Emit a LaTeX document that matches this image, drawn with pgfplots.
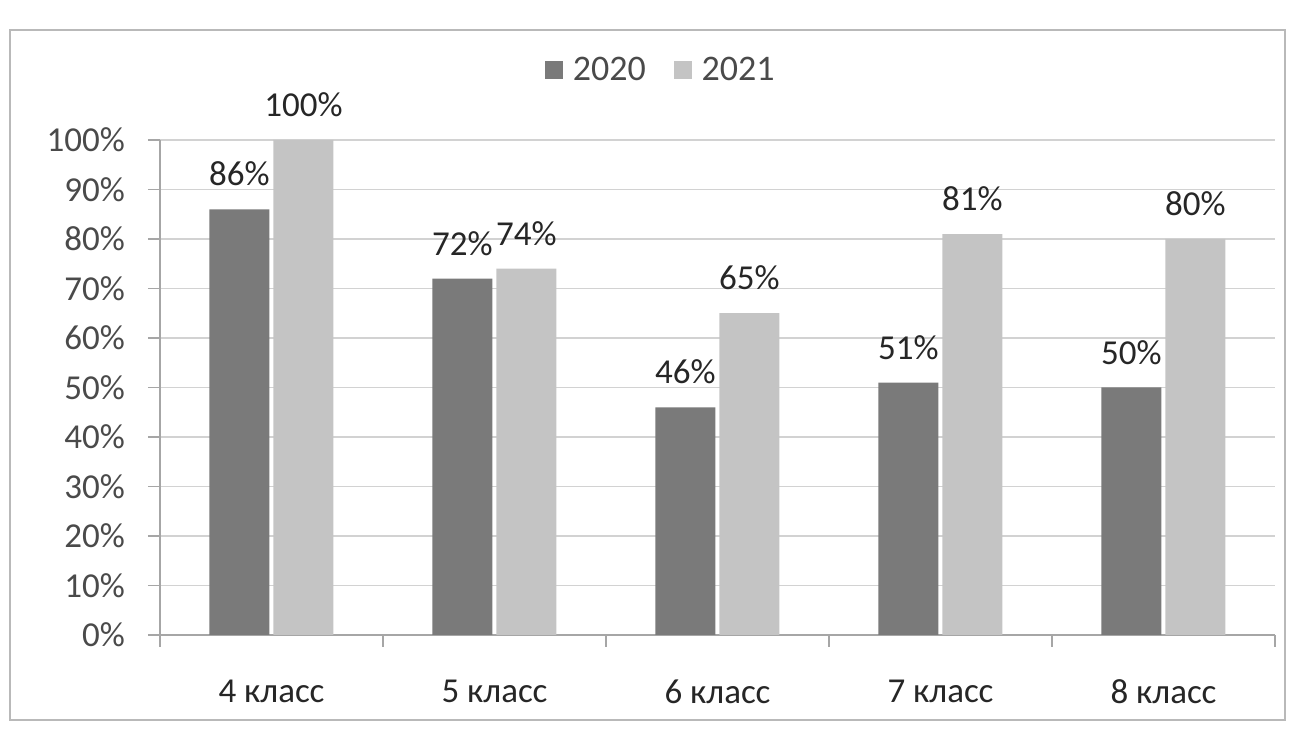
\documentclass[border=0pt]{standalone}
\usepackage{pgfplots}
\pgfplotsset{compat=1.18}
\usepackage{fontspec}
\setmainfont{Carlito}
\definecolor{c2020}{HTML}{7A7A7A}
\definecolor{c2021}{HTML}{C4C4C4}
\definecolor{txt}{HTML}{262626}
\definecolor{tick}{HTML}{4A4A4A}
\begin{document}
\begin{tikzpicture}[x=1pt,y=1pt]
\useasboundingbox (-80,-49) rectangle (569,317.5);
\draw[gray!55, line width=0.6pt] (-75,-42.5) rectangle (562.5,302.5);
\begin{axis}[
  at={(0,0)}, anchor=south west,
  width=557.5pt, height=247.5pt, scale only axis,
  ymin=0, ymax=100, xmin=-0.5, xmax=4.5,
  ybar=2pt, bar width=30pt,
  axis x line*=bottom, axis y line*=left,
  axis line style={gray!70, line width=0.6pt},
  tick align=outside,
  xtick={0,1,2,3,4},
  xticklabels={4 класс,5 класс,6 класс,7 класс,8 класс},
  major x tick style={draw=none},
  minor xtick={-0.5,0.5,1.5,2.5,3.5,4.5},
  minor x tick style={gray!70, line width=0.6pt},
  minor tick length=6pt,
  ytick={0,10,...,100},
  major y tick style={gray!70, line width=0.6pt},
  major tick length=6pt,
  yticklabel={\pgfmathprintnumber{\tick}\%},
  /pgf/number format/assume math mode=true,
  ymajorgrids, grid style={gray!35, line width=0.6pt},
  xticklabel style={font=\fontsize{17.5}{20}\selectfont, text=txt, yshift=-13pt},
  yticklabel style={font=\fontsize{17.5}{20}\selectfont, text=tick, xshift=-8pt},
  nodes near coords={\pgfmathprintnumber{\pgfplotspointmeta}\%},
  nodes near coords style={font=\fontsize{17.5}{20}\selectfont, text=txt, yshift=8pt},
  legend style={at={(0.45,1.141)}, anchor=center, draw=none, fill=none,
    legend columns=2, font=\fontsize{18}{20}\selectfont, text=tick,
    /tikz/every odd column/.append style={column sep=3pt},
    /tikz/every even column/.append style={column sep=12pt}},
  legend image code/.code={\fill[#1] (0pt,-4.5pt) rectangle (9pt,4.5pt);},
  clip=false,
]
\addplot[fill=c2020, draw=none] coordinates {(0,86) (1,72) (2,46) (3,51) (4,50)};
\addplot[fill=c2021, draw=none] coordinates {(0,100) (1,74) (2,65) (3,81) (4,80)};
\legend{2020,2021}
\end{axis}
\end{tikzpicture}
\end{document}
